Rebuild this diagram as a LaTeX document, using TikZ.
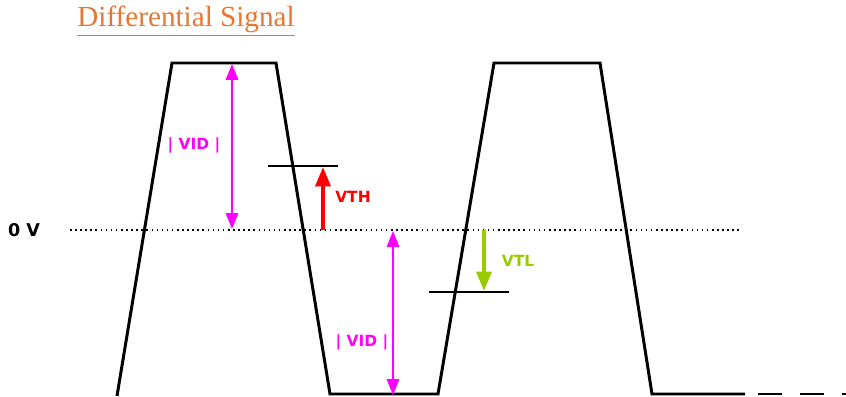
\documentclass[tikz,border=0pt]{standalone}
\usepackage{fontspec}
\setmainfont{Liberation Serif}
\newfontfamily\labelfont{DejaVu Sans}
\usetikzlibrary{arrows.meta}

\definecolor{titleorange}{RGB}{232,118,48}
\definecolor{vidpink}{RGB}{255,0,255}
\definecolor{vthred}{RGB}{255,0,0}
\definecolor{vtlgreen}{RGB}{153,204,0}

\tikzset{
  wave/.style={line width=1.7pt, line join=miter},
  level/.style={line width=1.1pt},
  lbl/.style={font=\labelfont\bfseries\fontsize{8.8}{10}\selectfont, inner sep=0pt},
  vidarrow/.style={vidpink, line width=1.1pt, {Triangle[length=9pt,width=7pt]}-{Triangle[length=9pt,width=7pt]}},
  vtharrow/.style={vthred, line width=2pt, -{Triangle[length=11pt,width=8.5pt]}},
  vtlarrow/.style={vtlgreen, line width=2pt, -{Triangle[length=11pt,width=8.5pt]}}
}

\begin{document}
\begin{tikzpicture}[x=0.02cm, y=-0.02cm]
  \useasboundingbox (0,0) rectangle (846,396);

  % title
  \node[text=titleorange, inner sep=0pt] (title) at (186,21)
    {\fontsize{16.6}{18}\selectfont\underline{Differential Signal}};

  % zero level
  \node[lbl, font=\labelfont\bfseries\fontsize{10}{11}\selectfont] (zero) at (24,230) {0 V};
  \coordinate (z1) at (70,230);
  \coordinate (z2) at (740,230);
  \draw[line width=0.9pt, dash pattern=on 0.9pt off 2pt] (z1) -- (z2);

  % waveform
  \draw[wave] (117,396) -- (172,63) -- (276,63) -- (330,394) -- (438,394)
              -- (494,63) -- (600,63) -- (652,394) -- (745,394);
  \draw[wave, dash pattern=on 13.6pt off 10.2pt] (758,394) -- (846,394);

  % thresholds
  \coordinate (th1) at (268,166);
  \coordinate (th2) at (338,166);
  \draw[level] (th1) -- (th2);
  \coordinate (tl1) at (429,292);
  \coordinate (tl2) at (509,292);
  \draw[level] (tl1) -- (tl2);

  % VID (high)
  \coordinate (vida) at (232,64);
  \coordinate (vidb) at (232,229);
  \draw[vidarrow] (vida) -- (vidb);
  \node[lbl, text=vidpink] (vidhi) at (194,145) {| VID |};

  % VID (low)
  \coordinate (vidc) at (393,231);
  \coordinate (vidd) at (393,395);
  \draw[vidarrow] (vidc) -- (vidd);
  \node[lbl, text=vidpink] (vidlo) at (362,342) {| VID |};

  % VTH
  \coordinate (vtha) at (323,230);
  \coordinate (vthb) at (323,167);
  \draw[vtharrow] (vtha) -- (vthb);
  \node[lbl, text=vthred] (vth) at (353,197) {VTH};

  % VTL
  \coordinate (vtla) at (484,230);
  \coordinate (vtlb) at (484,291);
  \draw[vtlarrow] (vtla) -- (vtlb);
  \node[lbl, text=vtlgreen] (vtl) at (518,261) {VTL};
\end{tikzpicture}
\end{document}
